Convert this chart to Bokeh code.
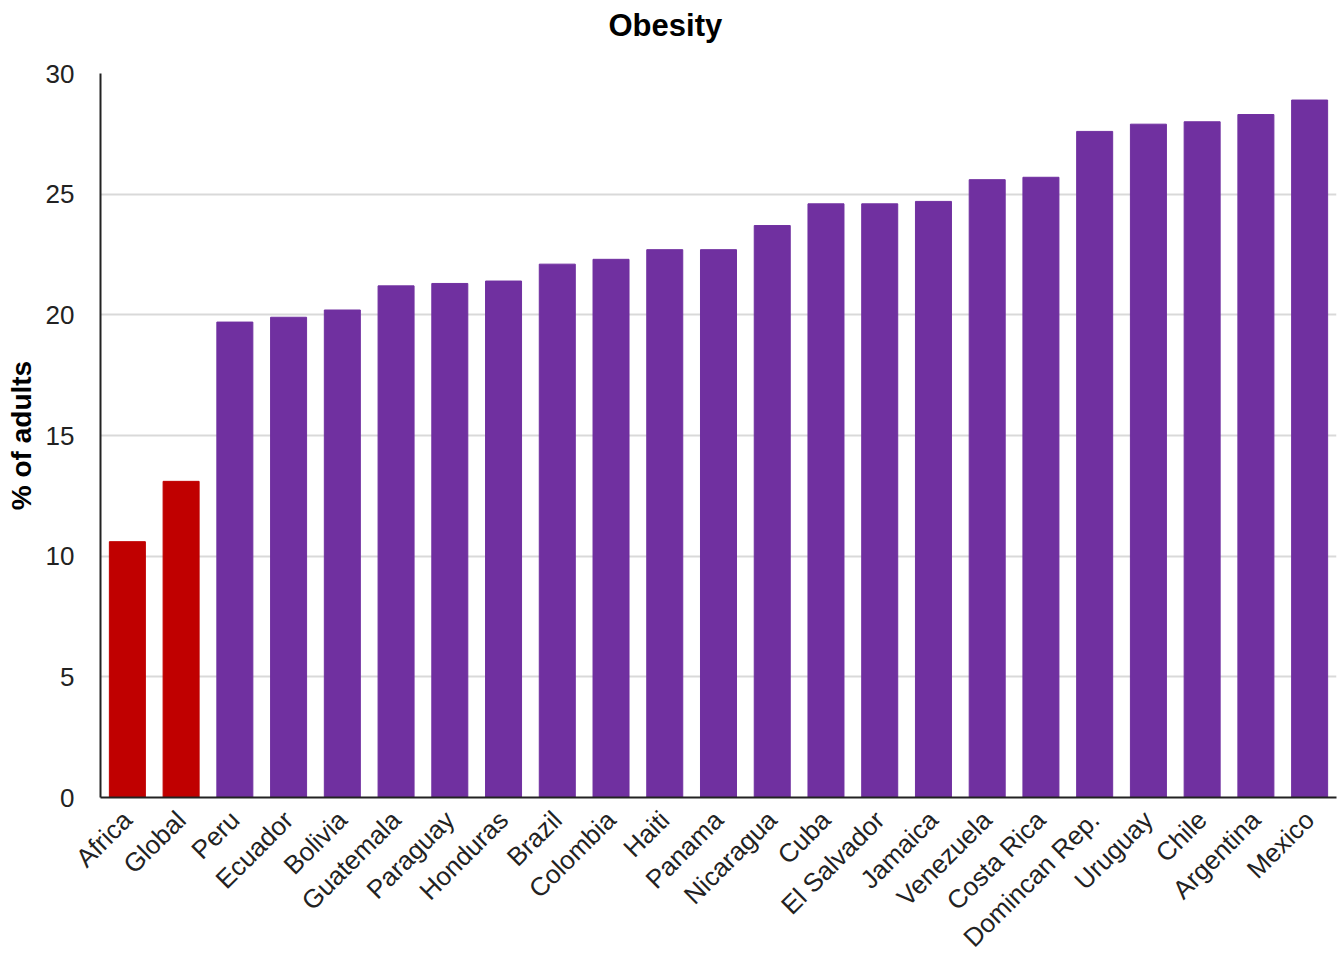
import math
from bokeh.plotting import figure
from bokeh.models import ColumnDataSource, Range1d, SingleIntervalTicker, Title
from bokeh.embed import file_html
from bokeh.resources import INLINE

countries = ["Africa", "Global", "Peru", "Ecuador", "Bolivia", "Guatemala", "Paraguay",
             "Honduras", "Brazil", "Colombia", "Haiti", "Panama", "Nicaragua", "Cuba",
             "El Salvador", "Jamaica", "Venezuela", "Costa Rica", "Domincan Rep.",
             "Uruguay", "Chile", "Argentina", "Mexico"]
obesity = [10.6, 13.1, 19.7, 19.9, 20.2, 21.2, 21.3, 21.4, 22.1, 22.3, 22.7, 22.7,
           23.7, 24.6, 24.6, 24.7, 25.6, 25.7, 27.6, 27.9, 28.0, 28.3, 28.9]
groups = ["ref", "ref"] + ["country"] * 21
palette = {"ref": "#C00000", "country": "#7030A0"}
colors = [palette[g] for g in groups]
title_text = "Obesity"

src = ColumnDataSource(dict(x=countries, top=obesity, color=colors))

p = figure(x_range=countries, y_range=Range1d(0, 30), width=1342, height=969,
           output_backend="svg", toolbar_location=None, title=None,
           min_border_left=100, min_border_right=6, min_border_top=73, min_border_bottom=172)
p.vbar(x="x", top="top", width=0.67, color="color", source=src)

# spacer (inner) then the real title (outer)
p.add_layout(Title(text=" ", text_font_size="15px", standoff=4), "above")
p.add_layout(Title(text=title_text, text_font="Liberation Sans", text_font_size="31px",
                   text_font_style="bold", text_color="#000000", align="left",
                   offset=508, standoff=12, vertical_align="top"), "above")

p.outline_line_color = None
p.xgrid.grid_line_color = None
p.ygrid.grid_line_color = "#d9d9d9"
p.ygrid.grid_line_width = 2

p.yaxis.ticker = SingleIntervalTicker(interval=5)
p.yaxis.axis_label = "% of adults"
p.yaxis.axis_label_text_font = "Liberation Sans"
p.yaxis.axis_label_text_font_size = "28px"
p.yaxis.axis_label_text_font_style = "bold"
p.yaxis.axis_label_text_color = "#000000"
p.yaxis.axis_label_standoff = 6
p.yaxis.major_label_text_font = "Liberation Sans"
p.yaxis.major_label_text_font_size = "26px"
p.yaxis.major_label_text_color = "#222222"
p.yaxis.major_label_standoff = 20
p.yaxis.major_tick_line_color = None
p.yaxis.minor_tick_line_color = None
p.yaxis.axis_line_color = "#222222"
p.yaxis.axis_line_width = 2

p.xaxis.major_label_orientation = math.pi / 4
p.xaxis.major_label_text_font = "Liberation Sans"
p.xaxis.major_label_text_font_size = "26px"
p.xaxis.major_label_text_color = "#222222"
p.xaxis.major_label_standoff = 12
p.xaxis.major_tick_line_color = None
p.xaxis.axis_line_color = "#222222"
p.xaxis.axis_line_width = 2

open("out.html", "w").write(file_html(p, INLINE))
